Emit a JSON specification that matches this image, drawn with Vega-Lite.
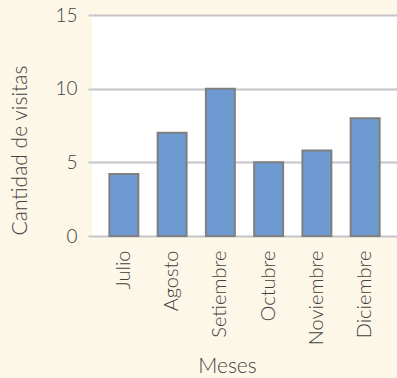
{
  "$schema": "https://vega.github.io/schema/vega-lite/v6.json",
  "autosize": {"type": "none"},
  "padding": {"left": 92, "top": 15, "right": 0, "bottom": 142},
  "width": 305,
  "height": 221,
  "background": "#fdf7e7",
  "config": {
    "view": {"fill": "white", "stroke": null},
    "font": "Lato",
    "axis": {"labelFont": "Lato", "titleFont": "Lato", "labelFontWeight": 300, "titleFontWeight": 300, "labelColor": "#404040", "titleColor": "#404040"}
  },
  "data": {
    "values": [
      {"mes": "Julio", "visitas": 4.2},
      {"mes": "Agosto", "visitas": 7},
      {"mes": "Setiembre", "visitas": 10},
      {"mes": "Octubre", "visitas": 5},
      {"mes": "Noviembre", "visitas": 5.8},
      {"mes": "Diciembre", "visitas": 8}
    ]
  },
  "mark": {"type": "bar", "fill": "#6d9bd1", "stroke": "#7f7f7f", "strokeWidth": 2},
  "encoding": {
    "x": {
      "field": "mes", "type": "nominal", "sort": null,
      "scale": {"paddingInner": 0.4, "paddingOuter": 0.36},
      "axis": {"title": "Meses", "labelAngle": -90, "labelAlign": "right", "labelBaseline": "middle", "labelFontSize": 20, "labelPadding": 14, "ticks": false, "domain": false, "titleFontSize": 21, "titleX": 135, "titleY": 136, "titleBaseline": "alphabetic"}
    },
    "y": {
      "field": "visitas", "type": "quantitative",
      "scale": {"domain": [0, 15]},
      "axis": {"title": "Cantidad de visitas", "values": [0, 5, 10, 15], "domain": false, "grid": true, "gridColor": "#c4c4ca", "gridWidth": 2, "gridOpacity": 1, "tickSize": 4, "tickColor": "#c4c4ca", "tickWidth": 2, "labelFontSize": 19, "labelPadding": 11, "titleFontSize": 21, "titleX": -72, "titleY": 135, "titleAlign": "center", "titleBaseline": "middle", "titleAngle": -90}
    }
  }
}
